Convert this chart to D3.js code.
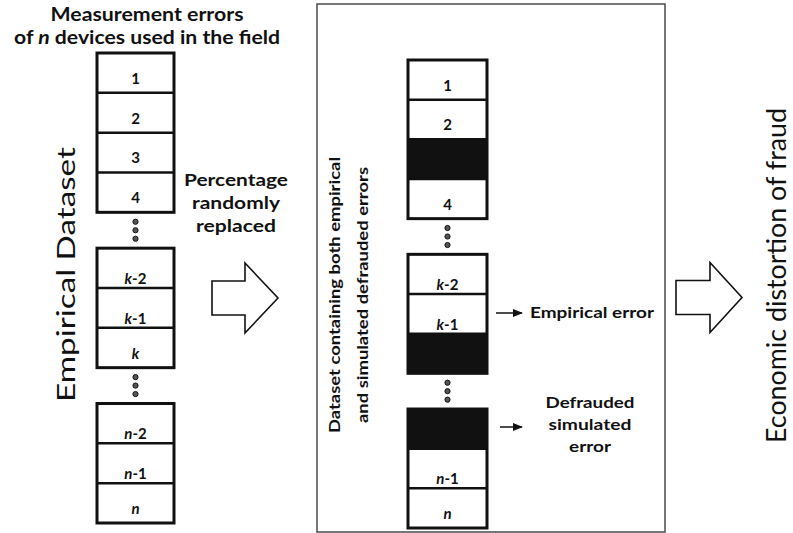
<!DOCTYPE html>
<html>
<head>
<meta charset="utf-8">
<script src="https://cdn.jsdelivr.net/npm/d3@7"></script>
<style>
  body { margin: 0; background: #fff; }
  text { font-family: Lato, "Open Sans", sans-serif; fill: #111; }
</style>
</head>
<body>
<svg width="793" height="533"></svg>
<script>
// text and cell contents (underscores mark italic parts)
const titleLines = ["Measurement errors", "of _n_ devices used in the field"];
const replacedLines = ["Percentage", "randomly", "replaced"];
const leftGroups = [["1", "2", "3", "4"], ["_k_-2", "_k_-1", "_k_"], ["_n_-2", "_n_-1", "_n_"]];
// null = cell replaced by a defrauded simulated error
const midGroups = [["1", "2", null, "4"], ["_k_-2", "_k_-1", null], [null, "_n_-1", "_n_"]];
const midTitle = ["Dataset containing both empirical", "and simulated defrauded errors"];
const empiricalNote = ["Empirical error"];
const defraudNote = ["Defrauded", "simulated", "error"];
const leftLabel = "Empirical Dataset";
const rightLabel = "Economic distortion of fraud";

const svg = d3.select("svg");
const GAP = 0.9; // gap between groups, in cell units

svg.append("defs").append("marker")
  .attr("id", "head")
  .attr("viewBox", "0 0 10 10")
  .attr("refX", 9).attr("refY", 5)
  .attr("markerWidth", 7).attr("markerHeight", 7)
  .attr("orient", "auto")
  .append("path").attr("d", "M0,1 L10,5 L0,9 Z").attr("fill", "#111");

function rich(sel, str) {
  str.split("_").forEach((part, i) => {
    if (!part) return;
    sel.append("tspan").style("font-style", i % 2 ? "italic" : "normal").text(part);
  });
}

function column(groups, x0, w, yRange) {
  const total = d3.sum(groups, g => g.length) + GAP * (groups.length - 1);
  const y = d3.scaleLinear().domain([0, total]).range(yRange);
  const g = svg.append("g");
  let start = 0;
  groups.forEach((cells, gi) => {
    // fills
    cells.forEach((c, i) => {
      if (c === null) {
        g.append("rect").attr("x", x0).attr("y", y(start + i))
          .attr("width", w).attr("height", y(start + i + 1) - y(start + i))
          .attr("fill", "#111");
      }
    });
    // dividers
    for (let i = 1; i < cells.length; i++) {
      g.append("line").attr("x1", x0).attr("x2", x0 + w)
        .attr("y1", y(start + i)).attr("y2", y(start + i))
        .attr("stroke", "#111").attr("stroke-width", 2.5);
    }
    g.append("rect").attr("x", x0).attr("y", y(start))
      .attr("width", w).attr("height", y(start + cells.length) - y(start))
      .attr("fill", "none").attr("stroke", "#111").attr("stroke-width", 3);
    // labels
    cells.forEach((c, i) => {
      if (c === null) return;
      const t = g.append("text")
        .attr("x", x0 + w / 2)
        .attr("y", y(start + i + 1) - (c.includes("-") ? 4 : 9))
        .attr("text-anchor", "middle")
        .attr("font-size", 15).attr("font-weight", 700);
      rich(t, c);
    });
    start += cells.length;
    // ellipsis dots
    if (gi < groups.length - 1) {
      const cy = y(start + GAP / 2);
      [-8.5, 0, 8.5].forEach(d => {
        g.append("circle").attr("cx", x0 + w / 2).attr("cy", cy + d).attr("r", 2.6)
          .attr("fill", "#555").attr("stroke", "#111").attr("stroke-width", 1);
      });
      start += GAP;
    }
  });
}

function lines(arr, x, y0, step, size, widths, anchor) {
  arr.forEach((s, i) => {
    const t = svg.append("text").attr("x", x).attr("y", y0 + i * step)
      .attr("text-anchor", anchor || "middle")
      .attr("font-size", size).attr("font-weight", 700);
    if (widths) t.attr("textLength", widths[i]).attr("lengthAdjust", "spacingAndGlyphs");
    rich(t, s);
  });
}

function blockArrow(x0, hx, tip, mid, sh, hh) {
  const p = d3.path();
  p.moveTo(x0, mid - sh); p.lineTo(hx, mid - sh); p.lineTo(hx, mid - hh);
  p.lineTo(tip, mid); p.lineTo(hx, mid + hh); p.lineTo(hx, mid + sh);
  p.lineTo(x0, mid + sh); p.closePath();
  svg.append("path").attr("d", p.toString())
    .attr("fill", "#fff").attr("stroke", "#111").attr("stroke-width", 1.6);
}

// middle panel frame
svg.append("rect").attr("x", 317).attr("y", 4).attr("width", 348).attr("height", 528)
  .attr("fill", "none").attr("stroke", "#555").attr("stroke-width", 1.6);

// left side
lines(titleLines, 147, 21, 23, 18, [193, 266]);
lines(replacedLines, 236, 186, 23, 17, [104, 88, 80]);
column(leftGroups, 97, 77, [53, 523]);
svg.append("text")
  .attr("transform", "translate(75,274.5) rotate(-90)")
  .attr("text-anchor", "middle").attr("font-size", 25)
  .attr("textLength", 255).attr("lengthAdjust", "spacingAndGlyphs")
  .text(leftLabel);

blockArrow(212, 245, 278, 298, 17, 35);

// middle panel
column(midGroups, 408, 79, [60, 528]);
midTitle.forEach((s, i) => {
  svg.append("text")
    .attr("transform", `translate(${340 + i * 28},295) rotate(-90)`)
    .attr("text-anchor", "middle").attr("font-size", 16).attr("font-weight", 700)
    .attr("textLength", [276, 256][i]).attr("lengthAdjust", "spacingAndGlyphs")
    .text(s);
});

svg.append("line").attr("x1", 496).attr("x2", 522).attr("y1", 313).attr("y2", 313)
  .attr("stroke", "#111").attr("stroke-width", 1.5).attr("marker-end", "url(#head)");
lines(empiricalNote, 530, 318, 0, 16, [124], "start");

svg.append("line").attr("x1", 500).attr("x2", 522).attr("y1", 427).attr("y2", 427)
  .attr("stroke", "#111").attr("stroke-width", 1.5).attr("marker-end", "url(#head)");
lines(defraudNote, 590, 408, 22, 16, [89, 83, 42]);

// right side
blockArrow(676, 710, 742, 297.5, 17, 35);
svg.append("text")
  .attr("transform", "translate(786,275.5) rotate(-90)")
  .attr("text-anchor", "middle").attr("font-size", 26)
  .attr("textLength", 335).attr("lengthAdjust", "spacingAndGlyphs")
  .text(rightLabel);
</script>
</body>
</html>
